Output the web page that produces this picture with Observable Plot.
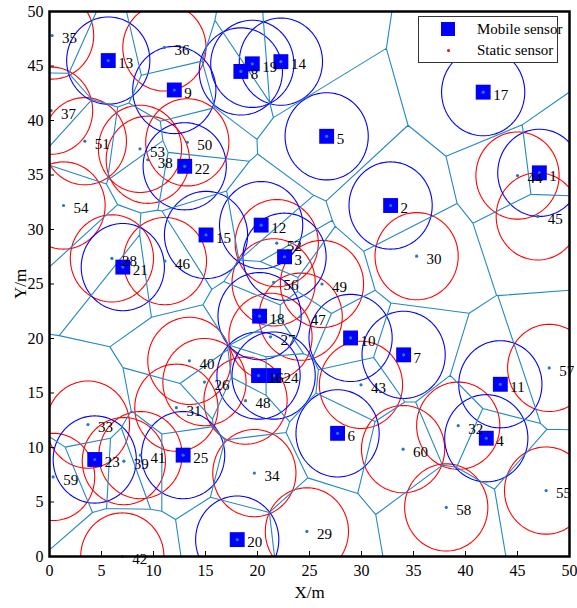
<!DOCTYPE html>
<html>
<head>
<meta charset="utf-8">
<script src="https://cdn.jsdelivr.net/npm/d3@7"></script>
<script src="https://cdn.jsdelivr.net/npm/@observablehq/plot@0.6"></script>
<style>
  body { margin: 0; background: #fff; }
  #chart { position: relative; width: 577px; height: 608px; font-family: "Liberation Serif", "Times New Roman", serif; }
  #chart svg { font-family: "Liberation Serif", "Times New Roman", serif; }
  #chart g[aria-label="x-axis label"] text, #chart g[aria-label="y-axis label"] text { font-size: 17px; }
  .legend { position: absolute; left: 418px; top: 16px; width: 140px; height: 47px; border: 1px solid #333; background: #fff; box-sizing: border-box; font-family: "Liberation Serif", "Times New Roman", serif; }
  .legend .row { position: absolute; left: 0; height: 20px; display: flex; align-items: center; font-size: 15px; color: #000; white-space: nowrap; }
  .legend .mark { width: 58px; display: flex; justify-content: center; align-items: center; }
  .legend .sq { width: 14px; height: 14px; background: #0000ff; }
  .legend .pt { width: 3px; height: 3px; border-radius: 50%; background: #ff0000; }
</style>
</head>
<body>
<div id="chart"></div>
<script>
// Mobile sensors (numbered 1-25)
const mobileIds = [1, 2, 3, 4, 5, 6, 7, 8, 9, 10, 11, 12, 13, 14, 15, 16, 17, 18, 19, 20, 21, 22, 23, 24, 25];
const mobileX = [47.1, 32.8, 22.6, 42.0, 26.65, 27.7, 34.05, 18.4, 12.0, 28.95, 43.35, 20.35, 5.65, 22.25, 15.05, 20.1, 41.7, 20.2, 19.5, 18.05, 7.05, 13.0, 4.35, 21.55, 12.85];
const mobileY = [35.2, 32.2, 27.5, 10.85, 38.55, 11.3, 18.5, 44.5, 42.8, 20.05, 15.8, 30.4, 45.5, 45.4, 29.5, 16.6, 42.6, 22.05, 45.2, 1.55, 26.55, 35.8, 8.9, 16.6, 9.3];

// Static sensors (numbered 26-60)
const staticIds = [26, 27, 28, 29, 30, 31, 32, 33, 34, 35, 36, 37, 38, 39, 40, 41, 42, 43, 44, 45, 46, 47, 48, 49, 50, 51, 52, 53, 54, 55, 56, 57, 58, 59, 60];
const staticX = [14.9, 21.25, 6.0, 24.75, 35.3, 12.2, 39.3, 3.7, 19.7, 0.25, 11.05, 0.15, 9.45, 7.15, 13.45, 8.75, 7.0, 29.95, 45.0, 46.95, 11.1, 24.15, 18.85, 26.2, 13.25, 3.4, 21.85, 8.7, 1.35, 47.75, 21.55, 48.05, 38.15, 0.35, 34.0];
const staticY = [16.0, 20.15, 27.35, 2.3, 27.55, 13.65, 12.0, 12.1, 7.65, 47.8, 46.7, 40.9, 36.4, 8.75, 17.95, 9.3, 0.0, 15.75, 34.95, 31.2, 27.1, 22.0, 14.3, 25.0, 38.0, 38.1, 28.75, 37.4, 32.2, 6.05, 25.15, 17.3, 4.5, 7.3, 9.85];

// Sensing radius (m) and axis ticks
const sensingRadius = 4;
const xTicks = [0, 5, 10, 15, 20, 25, 30, 35, 40, 45, 50];
const yTicks = [0, 5, 10, 15, 20, 25, 30, 35, 40, 45, 50];

const mobile = mobileIds.map((id, i) => ({id, kind: "mobile", x: mobileX[i], y: mobileY[i]}));
const fixed = staticIds.map((id, i) => ({id, kind: "static", x: staticX[i], y: staticY[i]}));
const sensors = [...mobile, ...fixed];

// Outline of each sensing disk, traced in data units so it follows both scales
const angles = d3.range(0, 360, 3).map(a => a * Math.PI / 180);
const disk = list => list.flatMap(s => angles.map(a => ({
  id: s.id,
  x: s.x + sensingRadius * Math.cos(a),
  y: s.y + sensingRadius * Math.sin(a)
})));

const serif = '"Liberation Serif", "Times New Roman", serif';

const chart = Plot.plot({
  width: 577,
  height: 608,
  marginLeft: 49,
  marginRight: 8,
  marginTop: 11,
  marginBottom: 52,
  style: {fontFamily: serif, fontSize: "16px", color: "#000", background: "#fff"},
  x: {domain: [0, 50]},
  y: {domain: [0, 50]},
  marks: [
    Plot.line(disk(fixed), {x: "x", y: "y", z: "id", stroke: "#ff0000", strokeWidth: 1.1, curve: "linear-closed", clip: true}),
    Plot.line(disk(mobile), {x: "x", y: "y", z: "id", stroke: "#0000ff", strokeWidth: 1.1, curve: "linear-closed", clip: true}),
    Plot.voronoiMesh(sensors, {x: "x", y: "y", stroke: "#2587c5", strokeOpacity: 1, strokeWidth: 1.1}),
    Plot.dot(mobile, {x: "x", y: "y", symbol: "square", r: 8.4, fill: "#0000ff"}),
    Plot.dot(sensors, {x: "x", y: "y", r: 1.6, fill: "#2a78b8"}),
    Plot.text(sensors, {x: "x", y: "y", text: "id", dx: 10, dy: 3, textAnchor: "start", fontSize: 15, fill: "#000"}),
    // tick labels and axis titles
    Plot.axisX(xTicks, {tickSize: 0, tickPadding: 8, fontSize: 16, label: "X/m", labelArrow: "none", labelAnchor: "center", labelOffset: 41}),
    Plot.axisY(yTicks, {tickSize: 0, tickPadding: 6, fontSize: 16, label: "Y/m", labelArrow: "none", labelAnchor: "center", labelOffset: 36}),
    // inward tick marks
    Plot.axisX(xTicks, {fill: "none", tickSize: 5, dy: -5, label: null}),
    Plot.axisY(yTicks, {fill: "none", tickSize: 5, dx: 5, label: null}),
    Plot.frame({stroke: "#000", strokeWidth: 2.5})
  ]
});

const host = document.getElementById("chart");
host.appendChild(chart);

const legend = document.createElement("div");
legend.className = "legend";
legend.innerHTML =
  '<div class="row" style="top:2px"><div class="mark"><div class="sq"></div></div><span>Mobile sensor</span></div>' +
  '<div class="row" style="top:23px"><div class="mark"><div class="pt"></div></div><span>Static sensor</span></div>';
host.appendChild(legend);
</script>
</body>
</html>
